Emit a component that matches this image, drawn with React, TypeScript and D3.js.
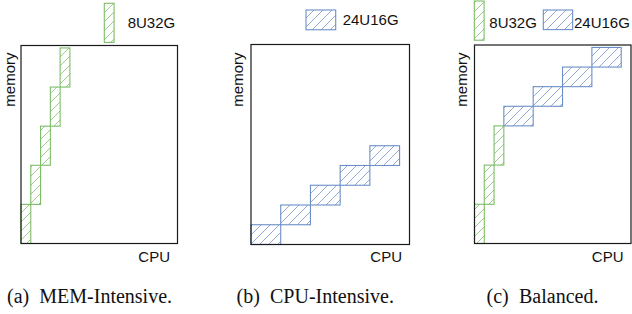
import * as d3 from 'd3';
import React from 'react';

// machine types: CPU units and memory per box
const machineNames = ['8U32G', '24U16G'];
const machineCpu = [8, 24];
const machineMem = [32, 16];

// placements per panel (machine index, cpu start, memory start)
const memIntType = [0, 0, 0, 0, 0];
const memIntCpu = [0, 8, 16, 24, 32];
const memIntMem = [0, 32, 64, 96, 128];

const cpuIntType = [1, 1, 1, 1, 1];
const cpuIntCpu = [0, 24, 48, 72, 96];
const cpuIntMem = [0, 16, 32, 48, 64];

const balType = [0, 0, 0, 1, 1, 1, 1];
const balCpu = [0, 8, 16, 24, 48, 72, 96];
const balMem = [0, 32, 64, 96, 112, 128, 144];

const captionTags = ['(a)', '(b)', '(c)'];
const captionTexts = ['MEM-Intensive.', 'CPU-Intensive.', 'Balanced.'];

const CPU_MAX = 128;
const MEM_MAX = 162;

const outline = ['#7dbd68', '#6b8fc6'];
const hatch = ['#99cd88', '#93aad8'];

const sans = '"Liberation Sans", Arial, sans-serif';
const serif = '"Liberation Serif", "Times New Roman", serif';

type Panel = {
  types: number[];
  cpu: number[];
  mem: number[];
  x0: number; x1: number; y0: number; y1: number;
  memLabelX: number;
  legend: { type: number; x: number; y: number; textX: number; textY: number }[];
  tagX: number;
  textX: number;
};

const panels: Panel[] = [
  {
    types: memIntType, cpu: memIntCpu, mem: memIntMem,
    x0: 21, x1: 177.5, y0: 45.5, y1: 243.5, memLabelX: 15,
    legend: [{ type: 0, x: 104.3, y: 3.3, textX: 127.7, textY: 28.3 }],
    tagX: 7, textX: 39.3,
  },
  {
    types: cpuIntType, cpu: cpuIntCpu, mem: cpuIntMem,
    x0: 251, x1: 409.5, y0: 44.5, y1: 244.5, memLabelX: 242.7,
    legend: [{ type: 1, x: 306, y: 10, textX: 342.7, textY: 25 }],
    tagX: 236.5, textX: 270,
  },
  {
    types: balType, cpu: balCpu, mem: balMem,
    x0: 474.5, x1: 631, y0: 45, y1: 243.5, memLabelX: 466.7,
    legend: [
      { type: 0, x: 474.3, y: 1, textX: 489.3, textY: 28.3 },
      { type: 1, x: 543.3, y: 10, textX: 574, textY: 28.3 },
    ],
    tagX: 486.5, textX: 519,
  },
];

const App: React.FC = () => {
  return (
    <svg width={632} height={314} style={{ position: 'absolute', left: 0, top: 0 }}>
      <defs>
        {hatch.map((c, i) => (
          <pattern key={i} id={'hatch' + i} patternUnits="userSpaceOnUse" width={9} height={9}>
            <path d="M0,9 L9,0 M-2,2 L2,-2 M7,11 L11,7" stroke={c} strokeWidth={1} />
          </pattern>
        ))}
      </defs>
      {panels.map((p, pi) => {
        const x = d3.scaleLinear().domain([0, CPU_MAX]).range([p.x0, p.x1]);
        const y = d3.scaleLinear().domain([0, MEM_MAX]).range([p.y1, p.y0]);
        const w = (t: number) => x(machineCpu[t]) - x(0);
        const h = (t: number) => y(0) - y(machineMem[t]);
        return (
          <g key={pi}>
            {p.types.map((t, i) => (
              <rect
                key={i}
                x={x(p.cpu[i])}
                y={y(p.mem[i] + machineMem[t])}
                width={w(t)}
                height={h(t)}
                fill={`url(#hatch${t})`}
                stroke={outline[t]}
                strokeWidth={1.1}
              />
            ))}
            <rect x={p.x0} y={p.y0} width={p.x1 - p.x0} height={p.y1 - p.y0} fill="none" stroke="#1a1a1a" strokeWidth={1.2} />
            {p.legend.map((l, i) => (
              <g key={i}>
                <rect x={l.x} y={l.y} width={w(l.type)} height={h(l.type)} fill={`url(#hatch${l.type})`} stroke={outline[l.type]} strokeWidth={1.1} />
                <text x={l.textX} y={l.textY} fontFamily={sans} fontSize={15} fill="#111">{machineNames[l.type]}</text>
              </g>
            ))}
            <text x={p.x1 - 7.5} y={262} textAnchor="end" fontFamily={sans} fontSize={15} fill="#111">CPU</text>
            <text transform={`translate(${p.memLabelX},52.5) rotate(-90)`} textAnchor="end" fontFamily={sans} fontSize={15} fill="#111">memory</text>
            <text x={p.tagX} y={302.7} fontFamily={serif} fontSize={20} fill="#111">{captionTags[pi]}</text>
            <text x={p.textX} y={302.7} fontFamily={serif} fontSize={20} fill="#111">{captionTexts[pi]}</text>
          </g>
        );
      })}
    </svg>
  );
};

export default App;
